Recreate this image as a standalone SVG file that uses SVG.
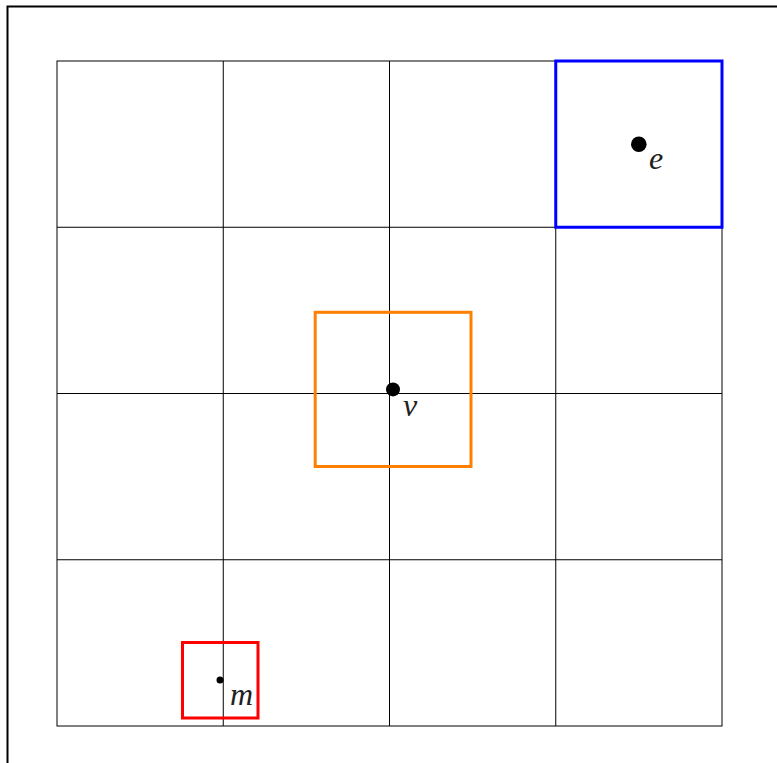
<svg xmlns="http://www.w3.org/2000/svg" width="777" height="763" viewBox="0 0 777 763">
<style>
.grid{fill:none;stroke:#000;stroke-width:1}
.box{fill:none;stroke-width:3}
.lbl{font-family:"Liberation Serif","DejaVu Serif",serif;font-style:italic;font-size:32px;fill:#222}
</style>
<rect width="777" height="763" fill="#fff"/>
<path d="M7.5,763 V6.5 H777" fill="none" stroke="#000" stroke-width="2"/>
<g id="grid" class="grid">
<rect x="57" y="61" width="665" height="665"/>
<path d="M223.25,61V726M389.5,61V726M555.75,61V726M57,227.25H722M57,393.5H722M57,559.75H722"/>
</g>
<g id="node-e">
<rect class="box" x="555.75" y="61" width="166.25" height="166.25" stroke="#0000ff"/>
<circle cx="638.8" cy="144.2" r="7.8" fill="#000"/>
<text class="lbl" x="649" y="169">e</text>
</g>
<g id="node-v">
<rect class="box" x="315.2" y="312.3" width="155.8" height="154.2" stroke="#ff8000"/>
<circle cx="393" cy="389.4" r="7" fill="#000"/>
<text class="lbl" x="403" y="416">v</text>
</g>
<g id="node-m">
<rect class="box" x="182.5" y="642.5" width="75.5" height="75.5" stroke="#ff0000"/>
<circle cx="220" cy="680" r="3.5" fill="#000"/>
<text class="lbl" x="230" y="705">m</text>
</g>
<g id="connectors"></g>
</svg>
